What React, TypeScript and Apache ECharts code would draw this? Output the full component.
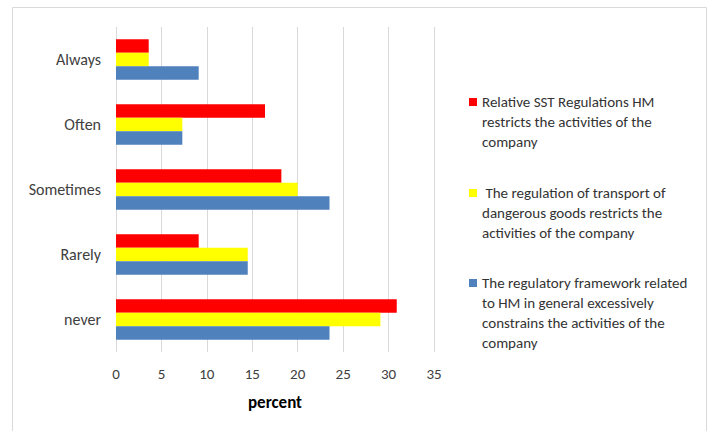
import React, { useEffect, useRef } from "react";
import * as echarts from "echarts";

const categories = ["never", "Rarely", "Sometimes", "Often", "Always"];
const seriesNames = [
  "Relative SST Regulations HM\nrestricts the activities of the\ncompany",
  " The regulation of transport of\ndangerous goods restricts the\nactivities of the company",
  "The regulatory framework related\nto HM in general excessively\nconstrains the activities of the\ncompany",
];
const redValues = [30.9, 9.1, 18.2, 16.4, 3.6];
const yellowValues = [29.1, 14.5, 20.0, 7.3, 3.6];
const blueValues = [23.5, 14.5, 23.5, 7.3, 9.1];
const xTicks = [0, 5, 10, 15, 20, 25, 30, 35];

const FONT = "Carlito, Lato, sans-serif";

export default function App() {
  const ref = useRef<HTMLDivElement>(null);
  useEffect(() => {
    if (!ref.current) return;
    const chart = echarts.init(ref.current, null, { renderer: "svg" });
    const colors = ["#FF0000", "#FFFF00", "#4F81BD"];
    const values = [redValues, yellowValues, blueValues];
    const legendTops = [52, 143, 213];
    const lead = ["\n\n", "\n\n", "\n\n\n"];
    chart.setOption({
      animation: false,
      textStyle: { fontFamily: FONT },
      graphic: [
        {
          type: "rect",
          shape: { x: 12.5, y: 7.5, width: 694, height: 440 },
          style: { fill: "none", stroke: "#d9d9d9", lineWidth: 1 },
          silent: true,
        },
      ],
      grid: { left: 116, right: 277, top: 27, bottom: 79 },
      legend: seriesNames.map((n, i) => ({
        data: [n],
        left: 469,
        top: legendTops[i],
        padding: 0,
        itemWidth: 8,
        itemHeight: 8,
        icon: "rect",
        selectedMode: false,
        formatter: (name: string) => lead[i] + name,
        textStyle: { fontFamily: FONT, fontSize: 15, color: "#333", lineHeight: 20 },
      })),
      xAxis: {
        type: "value",
        min: xTicks[0],
        max: xTicks[xTicks.length - 1],
        interval: 5,
        name: "percent",
        nameLocation: "middle",
        nameGap: 42,
        nameTextStyle: { fontFamily: FONT, fontSize: 17, fontWeight: "bold", color: "#000" },
        axisLine: { show: false },
        axisTick: { show: false },
        axisLabel: { fontFamily: FONT, fontSize: 15, color: "#404040", margin: 14 },
        splitLine: { show: true, lineStyle: { color: "#d9d9d9", width: 1 } },
      },
      yAxis: {
        type: "category",
        data: categories,
        axisLine: { show: false },
        axisTick: { show: false },
        axisLabel: { fontFamily: FONT, fontSize: 16, color: "#404040", margin: 15 },
      },
      series: seriesNames.map((n, i) => ({
        name: n,
        type: "bar",
        data: values[i],
        barGap: "0%",
        barCategoryGap: "38%",
        itemStyle: { color: colors[i] },
      })),
    });
    return () => chart.dispose();
  }, []);
  return (
    <div
      ref={ref}
      style={{ position: "fixed", left: 0, top: 0, width: 711, height: 431, background: "#fff" }}
    />
  );
}
